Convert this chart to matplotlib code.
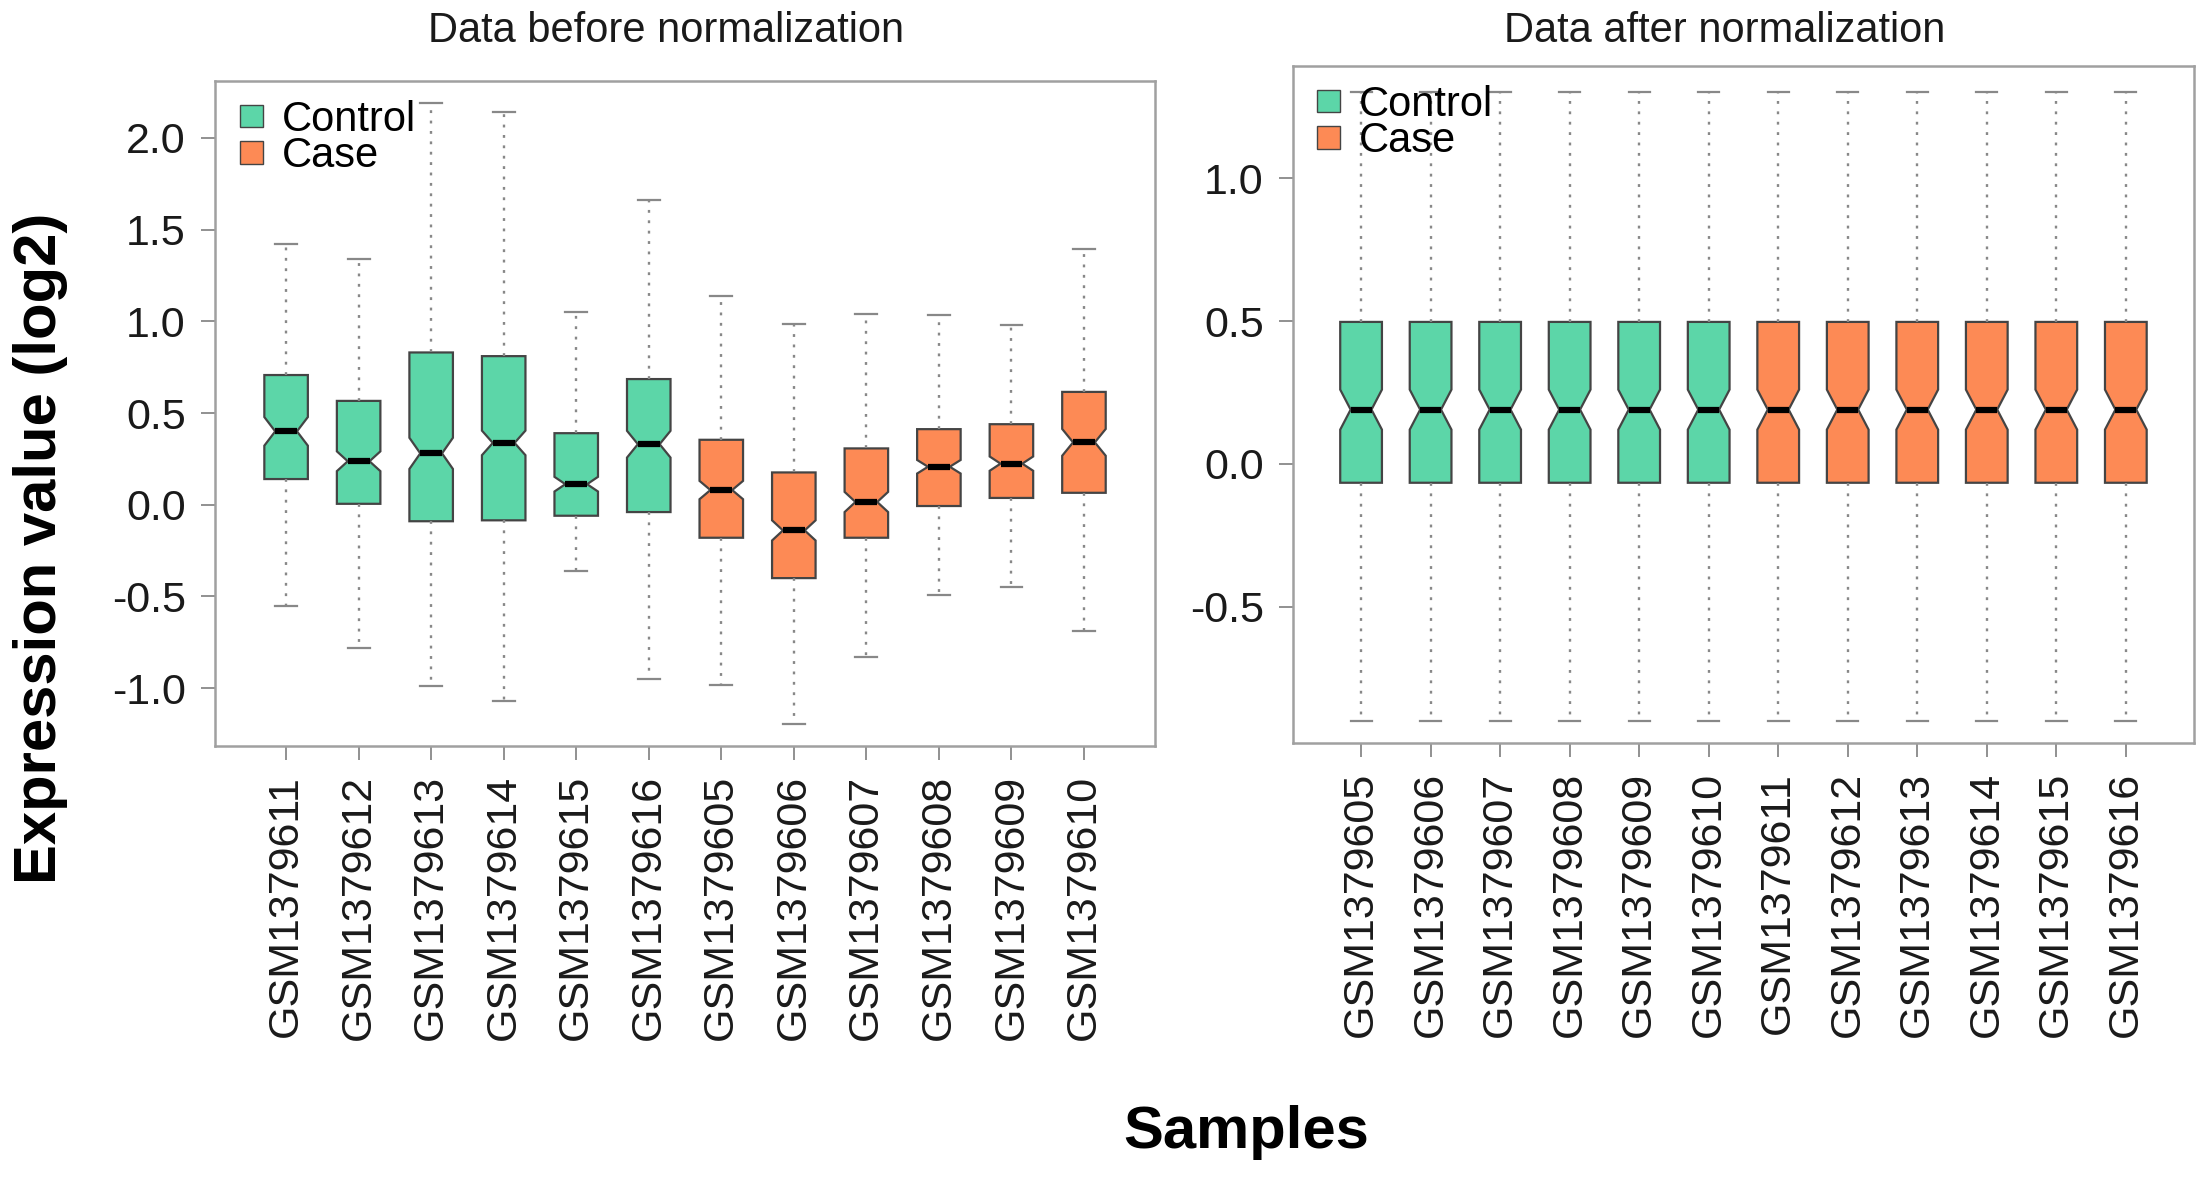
import matplotlib
matplotlib.use("Agg")
import matplotlib.pyplot as plt
from matplotlib.patches import Patch

plt.rcParams['font.family'] = ['Liberation Sans', 'DejaVu Sans']

# colours
col_control = "#5cd6a8"
col_case = "#fd8a55"
col_edge = "#444444"
col_grey = "#888888"

# ---- data before normalization ----
samples_before = ["GSM1379611", "GSM1379612", "GSM1379613", "GSM1379614",
                  "GSM1379615", "GSM1379616", "GSM1379605", "GSM1379606",
                  "GSM1379607", "GSM1379608", "GSM1379609", "GSM1379610"]
groups_before = ["Control"] * 6 + ["Case"] * 6
whislo_before = [-0.55, -0.78, -0.99, -1.07, -0.36, -0.95, -0.98, -1.195, -0.83, -0.49, -0.45, -0.69]
q1_before = [0.14, 0.005, -0.09, -0.085, -0.06, -0.04, -0.18, -0.40, -0.18, -0.007, 0.037, 0.065]
med_before = [0.40, 0.237, 0.28, 0.337, 0.112, 0.33, 0.08, -0.14, 0.015, 0.207, 0.224, 0.34]
q3_before = [0.707, 0.566, 0.83, 0.81, 0.39, 0.685, 0.354, 0.176, 0.307, 0.412, 0.439, 0.615]
whishi_before = [1.42, 1.34, 2.19, 2.14, 1.05, 1.66, 1.14, 0.983, 1.04, 1.034, 0.978, 1.395]
notch_before = [0.078, 0.054, 0.085, 0.067, 0.04, 0.073, 0.05, 0.055, 0.055, 0.037, 0.039, 0.073]

# ---- data after normalization ----
samples_after = ["GSM1379605", "GSM1379606", "GSM1379607", "GSM1379608",
                 "GSM1379609", "GSM1379610", "GSM1379611", "GSM1379612",
                 "GSM1379613", "GSM1379614", "GSM1379615", "GSM1379616"]
groups_after = ["Control"] * 6 + ["Case"] * 6
whislo_after = [-0.899] * 12
q1_after = [-0.066] * 12
med_after = [0.19] * 12
q3_after = [0.497] * 12
whishi_after = [1.303] * 12
notch_after = [0.07] * 12

group_colors = {"Control": col_control, "Case": col_case}


def make_stats(labels, lo, q1, med, q3, hi, notch):
    stats = []
    for i in range(len(labels)):
        stats.append({"label": labels[i], "whislo": lo[i], "q1": q1[i], "med": med[i],
                      "q3": q3[i], "whishi": hi[i], "cilo": med[i] - notch[i],
                      "cihi": med[i] + notch[i], "fliers": []})
    return stats


def draw_panel(ax, labels, groups, stats, ylim, yticks):
    positions = list(range(1, len(labels) + 1))
    bp = ax.bxp(stats, positions=positions, widths=0.6, capwidths=0.3,
                shownotches=True, patch_artist=True, showfliers=False,
                boxprops=dict(edgecolor=col_edge, linewidth=1.6),
                medianprops=dict(color="black", linewidth=4.5, solid_capstyle="butt"),
                whiskerprops=dict(color=col_grey, linewidth=1.7, linestyle=(0, (1.2, 3.2))),
                capprops=dict(color=col_grey, linewidth=1.6))
    for box, g in zip(bp["boxes"], groups):
        box.set_facecolor(group_colors[g])

    ax.set_xlim(0.02, len(labels) + 0.98)
    ax.set_ylim(*ylim)
    ax.set_yticks(yticks)
    ax.set_yticklabels(["%.1f" % v for v in yticks])
    ax.set_xticks(positions)
    ax.set_xticklabels(labels, rotation=90)
    ax.tick_params(axis="both", direction="out", length=10, width=1.3, color=col_grey,
                   labelsize=31, labelcolor="#1a1a1a", pad=11)
    for sp in ax.spines.values():
        sp.set_color("#a0a0a0")
        sp.set_linewidth(1.8)

    handles = [Patch(facecolor=col_control, edgecolor=col_edge, label="Control"),
               Patch(facecolor=col_case, edgecolor=col_edge, label="Case")]
    ax.legend(handles=handles, loc="upper left", bbox_to_anchor=(0.018, 0.984),
              frameon=False, fontsize=30, handlelength=0.55, handleheight=0.45,
              handletextpad=0.45, labelspacing=-0.09, borderpad=0.2, borderaxespad=0)


fig = plt.figure(figsize=(22.03, 11.82), dpi=100)
ax1 = fig.add_axes([0.0976, 0.3689, 0.4267, 0.5626])
ax2 = fig.add_axes([0.5869, 0.3714, 0.4090, 0.5728])

draw_panel(ax1, samples_before, groups_before,
           make_stats(samples_before, whislo_before, q1_before, med_before,
                      q3_before, whishi_before, notch_before),
           (-1.315, 2.31), [-1.0, -0.5, 0.0, 0.5, 1.0, 1.5, 2.0])
draw_panel(ax2, samples_after, groups_after,
           make_stats(samples_after, whislo_after, q1_after, med_after,
                      q3_after, whishi_after, notch_after),
           (-0.977, 1.393), [-0.5, 0.0, 0.5, 1.0])

fig.text(0.3023, 0.9645, "Data before normalization", ha="center", va="baseline",
         fontsize=30, color="#1a1a1a")
fig.text(0.783, 0.9645, "Data after normalization", ha="center", va="baseline",
         fontsize=30, color="#1a1a1a")
fig.text(0.0185, 0.536, "Expression value (log2)", rotation=90, ha="center", va="center",
         fontsize=43, fontweight="bold")
fig.text(0.5656, 0.0288, "Samples", ha="center", va="baseline",
         fontsize=43, fontweight="bold")

fig.savefig("out.png", dpi=100, facecolor="white")
